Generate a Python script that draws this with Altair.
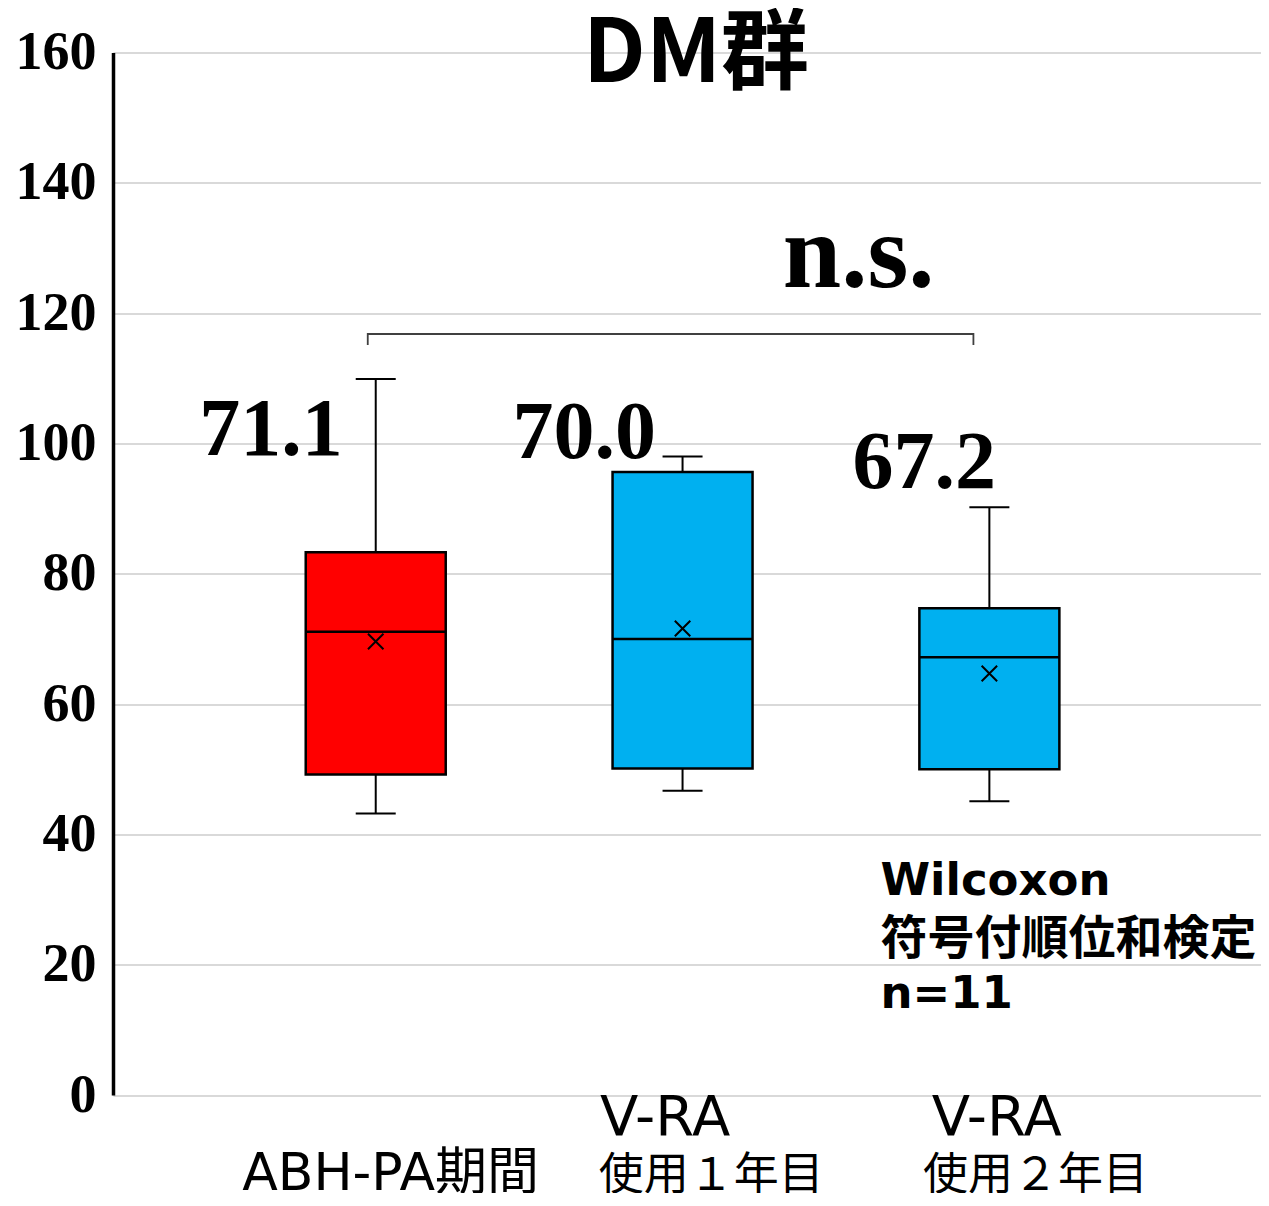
import altair as alt
import pandas as pd

# ---- data ----
categories = ["ABH-PA期間", "V-RA使用１年目", "V-RA使用２年目"]
positions = [1, 2, 3]
whisker_low = [43.2, 46.7, 45.1]
q1 = [49.2, 50.1, 50.0]
median = [71.1, 70.0, 67.2]
q3 = [83.3, 95.6, 74.7]
whisker_high = [109.9, 98.0, 90.2]
mean = [69.6, 71.6, 64.7]
box_colors = ["#FF0000", "#00B0F0", "#00B0F0"]

y_ticks = [0, 20, 40, 60, 80, 100, 120, 140, 160]

# ---- annotation layout (data coordinates) ----
median_label_x = [0.659, 1.680, 2.788]
median_label_y = [98.2, 97.8, 93.2]

xlab_text = ["ABH-PA期間", "V-RA", "使用１年目", "V-RA", "使用２年目"]
xlab_x = [0.565, 1.731, 1.727, 2.812, 2.784]
xlab_y = [-14.6, -6.1, -14.6, -6.1, -14.6]
xlab_size = [52, 56, 45, 56, 45]

note_text = ["Wilcoxon", "符号付順位和検定", "n=11"]
note_x = [2.645, 2.645, 2.645]
note_y = [30.7, 21.6, 13.4]
note_size = [45, 47, 45]

bracket_x = [0.974, 0.974, 2.948, 2.948]
bracket_y = [115.1, 116.8, 116.8, 115.1]

df = pd.DataFrame({
    "cat": categories, "pos": positions, "lo": whisker_low, "q1": q1,
    "med": median, "q3": q3, "hi": whisker_high, "mean": mean,
    "color": box_colors,
    "medtxt": [f"{m:.1f}" for m in median],
    "lx": median_label_x, "ly": median_label_y,
})
xl = pd.DataFrame({"t": xlab_text, "x": xlab_x, "y": xlab_y, "s": xlab_size})
notes = pd.DataFrame({"t": note_text, "x": note_x, "y": note_y, "s": note_size})
br = pd.DataFrame({"x": bracket_x, "y": bracket_y, "o": [0, 1, 2, 3]})
title_df = pd.DataFrame({"t": ["DM群"], "x": [2.044], "y": [155.5]})
ns_df = pd.DataFrame({"t": ["n.s."], "x": [2.574], "y": [124.0]})

xscale = alt.Scale(domain=[0.160, 3.869], nice=False, zero=False)
yscale = alt.Scale(domain=[0, 160], nice=False, zero=False)

X = alt.X("pos:Q", scale=xscale, axis=None)
base = alt.Chart(df)

whisk_low = base.mark_rule(color="black", strokeWidth=2).encode(
    x=X,
    y=alt.Y("lo:Q", scale=yscale,
            axis=alt.Axis(values=y_ticks, title=None, ticks=False,
                          domainColor="black", domainWidth=3.5,
                          gridColor="#d9d9d9", gridWidth=2, grid=True,
                          labelFont="Liberation Serif", labelFontWeight="bold",
                          labelFontSize=54, labelColor="black", labelPadding=17)),
    y2="q1:Q",
)
whisk_hi = base.mark_rule(color="black", strokeWidth=2).encode(
    x=X, y=alt.Y("q3:Q", scale=yscale), y2="hi:Q")

boxes = base.mark_bar(size=140, stroke="black", strokeWidth=2.5).encode(
    x=X, y=alt.Y("q3:Q", scale=yscale), y2="q1:Q",
    color=alt.Color("color:N", scale=None))

med_tick = base.mark_tick(orient="horizontal", size=140, thickness=2.5,
                          color="black", opacity=1).encode(
    x=X, y=alt.Y("med:Q", scale=yscale))
cap_lo = base.mark_tick(orient="horizontal", size=40, thickness=2,
                        color="black", opacity=1).encode(
    x=X, y=alt.Y("lo:Q", scale=yscale))
cap_hi = base.mark_tick(orient="horizontal", size=40, thickness=2,
                        color="black", opacity=1).encode(
    x=X, y=alt.Y("hi:Q", scale=yscale))

mean_pt = base.mark_point(shape="M-1,-1L1,1M-1,1L1,-1", filled=False,
                          stroke="black", strokeWidth=2, size=240,
                          opacity=1).encode(
    x=X, y=alt.Y("mean:Q", scale=yscale))

med_lbl = base.mark_text(font="Liberation Serif", fontWeight="bold",
                         fontSize=82, align="center", baseline="alphabetic",
                         color="black").encode(
    x=alt.X("lx:Q", scale=xscale), y=alt.Y("ly:Q", scale=yscale),
    text="medtxt:N")

bracket = alt.Chart(br).mark_line(color="#404040", strokeWidth=1.8).encode(
    x=alt.X("x:Q", scale=xscale), y=alt.Y("y:Q", scale=yscale), order="o:Q")

ns = alt.Chart(ns_df).mark_text(font="Liberation Serif", fontWeight="bold",
                                fontSize=105, align="center",
                                baseline="alphabetic", color="black").encode(
    x=alt.X("x:Q", scale=xscale), y=alt.Y("y:Q", scale=yscale), text="t:N")

title = alt.Chart(title_df).mark_text(font="Noto Sans CJK JP", fontWeight="bold",
                                      fontSize=88, align="center",
                                      baseline="alphabetic", color="black").encode(
    x=alt.X("x:Q", scale=xscale), y=alt.Y("y:Q", scale=yscale), text="t:N")

note = alt.Chart(notes).mark_text(font="DejaVu Sans, Noto Sans CJK JP",
                                  fontWeight="bold", align="left",
                                  baseline="alphabetic", color="black").encode(
    x=alt.X("x:Q", scale=xscale), y=alt.Y("y:Q", scale=yscale), text="t:N",
    size=alt.Size("s:Q", scale=None, legend=None))

xlabels = alt.Chart(xl).mark_text(font="DejaVu Sans, Noto Sans CJK JP",
                                  align="left", baseline="alphabetic",
                                  color="black").encode(
    x=alt.X("x:Q", scale=xscale), y=alt.Y("y:Q", scale=yscale), text="t:N",
    size=alt.Size("s:Q", scale=None, legend=None))

chart = alt.layer(
    whisk_low, whisk_hi, boxes, med_tick, cap_lo, cap_hi, mean_pt,
    med_lbl, bracket, ns, title, note, xlabels
).properties(
    width=1148, height=1042.5,
    autosize=alt.AutoSizeParams(type="none"),
    padding={"left": 105, "top": 44.5, "right": 0, "bottom": 98},
).configure_view(stroke=None).configure(background="white")

chart.save("out.html", embed_options={"renderer": "svg", "actions": False})
